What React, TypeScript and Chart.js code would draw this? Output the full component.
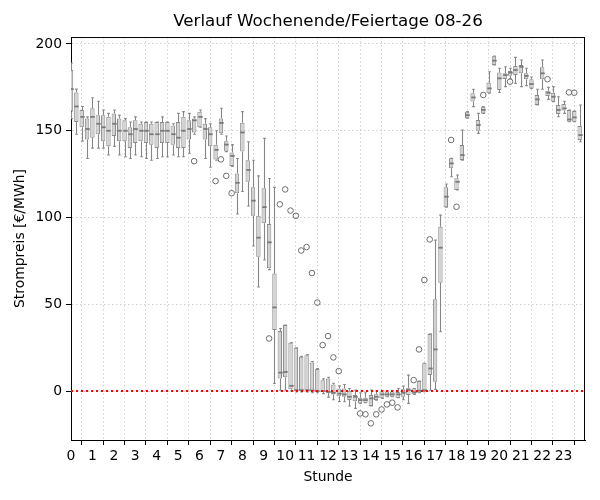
import React, { useEffect, useRef } from "react";
import { Chart, registerables } from "chart.js";

Chart.register(...registerables);

// 96 quarter-hour slots (00:00 ... 23:45)
const lowWhisker = [
  157, 148, 144, 134, 140, 140, 140, 136, 141, 136, 135, 134, 136, 135, 134, 133,
  134, 135, 135, 136, 135, 135, 137, 148, 152, 134, 129, 133, 148, 138, 129.5, 102,
  115, 106.6, 83.6, 60, 75.5, 70, 4.4, 0.5, 0.5, 0, -0.5, -0.5, -0.5, -1, -1, -1.5,
  -3.5, -5, -6, -6.2, -8.6, -10, -7.1, -6.7, -8.6, -5.2, -4.2, -3.3, -3.3, -3.8, -5, -7.1,
  -1.9, -1, -0.4, 0.5, 1, 34.2, 105.9, 123.5, 115.9, 133.1, 157.2, 163.9, 148.5, 160, 171.6, 187.9,
  172, 175.4, 180, 177.3, 175.4, 176, 174.4, 164.8, 173.9, 168.1, 166.8, 158.1, 160, 155.2, 155.2, 143.7,
];
const q1 = [
  161, 155, 152, 145, 146, 148, 144, 141, 147, 144, 144, 140, 143, 144, 143, 142,
  140, 143, 143, 142, 140, 140, 145, 149, 152, 145, 141, 133.5, 148.5, 138, 129.7, 114,
  138, 120.6, 101, 77.4, 96.7, 70.7, 35.2, 7.3, 7.9, 1, 0, 0, 0, 0, -0.5, -0.5,
  -1, -2, -3, -3.3, -5.2, -5.8, -7.1, -6.7, -8.6, -5.2, -4.2, -3.3, -3.3, -3.8, -3.3, -2.3,
  -1.9, -1, -0.4, 9.2, 5.4, 62.4, 105.9, 128.4, 115.9, 133.1, 157.2, 166.8, 150, 160, 171.6, 187.9,
  173.5, 179.8, 181.7, 182.1, 183.1, 179.7, 174.4, 164.8, 179.7, 170, 166.8, 159.7, 161.6, 155.2, 155.2, 144.7,
];
const median = [
  174, 164, 158, 151, 158, 154, 152, 150, 154, 150, 150, 148, 151, 150, 150, 148,
  148, 150, 150, 148, 146, 150, 151, 156, 158, 151, 148, 139, 154.5, 142, 135.5, 120,
  149, 127.4, 109.7, 88.4, 106, 85.7, 48.2, 10.6, 11, 3, 0.5, 0.5, 0.5, 0.3, 0, 0,
  -0.5, -1, -1.5, -1.9, -3.3, -3.3, -5.2, -5.2, -4.2, -3.3, -1.9, -1.9, -1.9, -1.9, -1, 0.6,
  -0.6, 0.2, 0.5, 13, 24, 82.6, 112, 131.2, 120.6, 136, 159, 169.2, 153.3, 162, 174.4, 190.4,
  180.2, 182.1, 183.5, 185, 186.9, 181.6, 176.9, 168.1, 183.1, 171.9, 169.6, 162, 162.9, 156.5, 157.7, 147.5,
];
const q3 = [
  185, 172, 162, 157, 163, 159, 159, 158, 160, 157, 156, 152, 156, 154, 155, 154,
  155, 155, 155, 153, 155, 158, 156, 157, 161, 154, 152, 142, 157, 144, 137.5, 125.4,
  154.6, 133, 117.4, 101, 116.8, 96.3, 67.8, 34.6, 38, 27.8, 25, 19.8, 20.7, 16.5, 12.7, 6.3,
  7.3, 3.8, 1.5, 1.5, 0.2, -2.3, -3.8, -3.8, -2.3, -1.9, 0, 0, 0, -0.6, 1, 1.9,
  1.5, 5.8, 16, 32.9, 52.9, 94.7, 117.4, 134.1, 122.6, 141.8, 161, 171.6, 156.2, 163.9, 177.7, 193,
  183.5, 183.1, 184.4, 187.3, 187.9, 183.1, 179.7, 170.6, 186.6, 173.1, 171.9, 164.8, 165.4, 162, 161.4, 152.7,
];
const highWhisker = [
  189, 174, 164, 158, 169, 167, 162, 160, 162, 159, 157, 155, 158, 155, 155, 155,
  155, 158, 155, 154, 160, 161, 160, 158, 162, 157, 154, 150, 163, 147, 142, 134,
  161, 143.7, 133, 124, 145.6, 122.5, 117.4, 36, 38, 28, 25, 20, 21, 17, 13, 7,
  8, 4.5, 3, 3.8, 1.5, 0.6, -1, -1, 0.6, 0, 0.5, 0.3, 0.3, 1.5, 2.9, 9.2,
  1.5, 5.8, 16, 33, 87, 101.4, 119.3, 134.1, 124.5, 150.4, 161, 173.9, 160, 163.9, 184, 193,
  186, 186.9, 186, 192.3, 190.8, 186, 181, 173.9, 190.8, 175, 175.4, 169.6, 167, 162, 161.4, 164.8,
];

// outliers: quarter-hour slot index and price
const outlierSlot = [
  23, 27, 28, 29, 30, 37, 39, 40, 41, 42, 43, 44, 45, 46, 47, 48, 49, 50,
  54, 55, 56, 57, 58, 59, 60, 61, 64, 65, 66, 67, 71, 72, 77, 82, 89, 93, 94,
];
const outlierValue = [
  132.5, 121, 133.5, 124, 114, 30.3, 107.6, 116.2, 104, 101, 81, 83, 68, 51, 26.5, 31.7, 19.4, 11.5,
  -12.9, -13.4, -18.6, -13.4, -10.6, -7.7, -6.7, -9.4, 6.3, 24, 64, 87.4, 144.7, 106.2, 170.6, 178.3, 179.7, 172.1, 171.9,
];

const hourTicks = [0, 1, 2, 3, 4, 5, 6, 7, 8, 9, 10, 11, 12, 13, 14, 15, 16, 17, 18, 19, 20, 21, 22, 23];
const priceTicks = [0, 50, 100, 150, 200];
const referenceLine = [0, 0];

const FONT = "'DejaVu Sans', sans-serif";
const BOX_FILL = "#d2d2d2";
const BOX_EDGE = "#8a8a8a";
const WHISKER = "#868686";
const MEDIAN = "#7a7a7a";
const GRID = "#cfcfcf";

export default function App() {
  const ref = useRef<HTMLCanvasElement>(null);

  useEffect(() => {
    if (!ref.current) return;
    const slotsPerHour = 4;
    const positions = q1.map((_, i) => i / slotsPerHour);

    const boxData = positions.map((p, i) => ({ x: p, y: [q1[i], q3[i]] }));
    const outlierData = outlierSlot.map((s, i) => ({ x: s / slotsPerHour, y: outlierValue[i] }));
    const zeroData = [
      { x: 0, y: referenceLine[0] },
      { x: 24, y: referenceLine[1] },
    ];

    const boxPlugin = {
      id: "boxWhiskers",
      afterDatasetDraw(chart: any, args: any) {
        if (args.index !== 0) return;
        const { ctx, chartArea, scales } = chart;
        const xs = scales.x;
        const ys = scales.y;
        const meta = chart.getDatasetMeta(0);
        ctx.save();
        ctx.beginPath();
        ctx.rect(chartArea.left, chartArea.top, chartArea.right - chartArea.left, chartArea.bottom - chartArea.top);
        ctx.clip();
        positions.forEach((p, i) => {
          const px = Math.round(xs.getPixelForValue(p)) + 0.5;
          const half = (meta.data[i]?.width ?? 4) / 2;
          const cap = half * 0.6;
          const yq1 = ys.getPixelForValue(q1[i]);
          const yq3 = ys.getPixelForValue(q3[i]);
          const ylo = ys.getPixelForValue(lowWhisker[i]);
          const yhi = ys.getPixelForValue(highWhisker[i]);
          ctx.strokeStyle = WHISKER;
          ctx.lineWidth = 1.1;
          ctx.beginPath();
          ctx.moveTo(px, yq3);
          ctx.lineTo(px, yhi);
          ctx.moveTo(px, yq1);
          ctx.lineTo(px, ylo);
          ctx.moveTo(px - cap, yhi);
          ctx.lineTo(px + cap, yhi);
          ctx.moveTo(px - cap, ylo);
          ctx.lineTo(px + cap, ylo);
          ctx.stroke();
          const ym = ys.getPixelForValue(median[i]);
          ctx.strokeStyle = MEDIAN;
          ctx.lineWidth = 1.8;
          ctx.beginPath();
          ctx.moveTo(px - half, ym);
          ctx.lineTo(px + half, ym);
          ctx.stroke();
        });
        ctx.restore();
      },
      afterDraw(chart: any) {
        const { ctx, chartArea } = chart;
        ctx.save();
        ctx.strokeStyle = "#000";
        ctx.lineWidth = 1;
        ctx.beginPath();
        ctx.moveTo(chartArea.left, chartArea.top + 0.5);
        ctx.lineTo(chartArea.right, chartArea.top + 0.5);
        ctx.moveTo(chartArea.right - 0.5, chartArea.top);
        ctx.lineTo(chartArea.right - 0.5, chartArea.bottom);
        ctx.stroke();
        ctx.restore();
      },
    };

    const tickFont = { family: FONT, size: 13.9 };

    const chart = new Chart(ref.current, {
      type: "bar",
      data: {
        datasets: [
          {
            type: "bar",
            data: boxData as any,
            backgroundColor: BOX_FILL,
            borderColor: BOX_EDGE,
            borderWidth: 1,
            borderSkipped: false,
            barPercentage: 0.82,
            categoryPercentage: 1,
            order: 3,
          },
          {
            type: "scatter",
            data: outlierData,
            pointRadius: 2.8,
            pointBorderWidth: 1,
            pointBorderColor: "#6c6c6c",
            pointBackgroundColor: "rgba(0,0,0,0)",
            borderColor: "#6c6c6c",
            backgroundColor: "rgba(0,0,0,0)",
            order: 2,
          },
          {
            type: "line",
            data: zeroData,
            borderColor: "#ff0000",
            borderWidth: 2,
            borderDash: [2, 3],
            pointRadius: 0,
            fill: false,
            order: 1,
          },
        ] as any,
      },
      options: {
        responsive: false,
        animation: false,
        devicePixelRatio: 1,
        layout: { padding: { left: 0, right: 15, top: 0, bottom: 0 } },
        plugins: {
          legend: { display: false },
          tooltip: { enabled: false },
          title: {
            display: true,
            text: "Verlauf Wochenende/Feiertage 08-26",
            fullSize: false,
            color: "#000",
            font: { family: FONT, size: 16.7, weight: "normal" },
            padding: { top: 12, bottom: 5 },
          },
        },
        scales: {
          x: {
            type: "linear",
            min: 0,
            max: 24,
            offset: false,
            afterBuildTicks: (s: any) => {
              s.ticks = hourTicks.map((v) => ({ value: v }));
            },
            afterFit: (s: any) => {
              s.height = 60;
            },
            ticks: {
              autoSkip: false,
              maxRotation: 0,
              color: "#000",
              font: tickFont,
              padding: 3,
              callback: (v: any) => String(v),
            },
            grid: {
              color: GRID,
              tickColor: "#000",
              tickLength: 5,
              tickBorderDash: [],
            },
            border: { color: "#000", width: 1, dash: [1.5, 2.5] },
            title: {
              display: true,
              text: "Stunde",
              color: "#000",
              font: tickFont,
              padding: { top: 0, bottom: 14 },
            },
          },
          y: {
            type: "linear",
            min: -28.2,
            max: 204,
            afterBuildTicks: (s: any) => {
              s.ticks = priceTicks.map((v) => ({ value: v }));
            },
            afterFit: (s: any) => {
              s.width = 71;
            },
            ticks: {
              color: "#000",
              font: tickFont,
              padding: 4,
              callback: (v: any) => String(v),
            },
            grid: {
              color: GRID,
              tickColor: "#000",
              tickLength: 5,
              tickBorderDash: [],
            },
            border: { color: "#000", width: 1, dash: [1.5, 2.5] },
            title: {
              display: true,
              text: "Strompreis [€/MWh]",
              color: "#000",
              font: tickFont,
              padding: { top: 12, bottom: 0 },
            },
          },
        },
      } as any,
      plugins: [boxPlugin],
    });

    return () => chart.destroy();
  }, []);

  return (
    <div style={{ position: "absolute", left: 0, top: 0, width: 600, height: 500, background: "#fff" }}>
      <canvas ref={ref} width={600} height={500} />
    </div>
  );
}
